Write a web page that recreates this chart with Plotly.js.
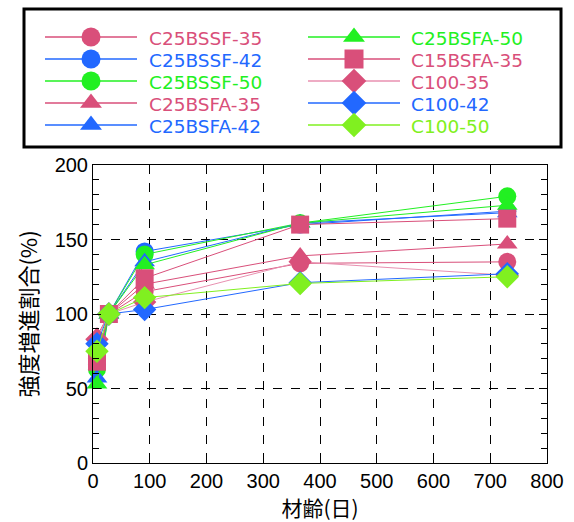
<!DOCTYPE html>
<html><head><meta charset="utf-8">
<script src="https://cdn.plot.ly/plotly-3.0.1.min.js"></script>
<style>html,body{margin:0;padding:0;background:#fff}#c{width:574px;height:522px}</style>
</head><body><div id="c"></div>
<script>
const ages = [7, 28, 91, 365, 730];
const names = ['C25BSSF-35','C25BSSF-42','C25BSSF-50','C25BSFA-35','C25BSFA-42','C25BSFA-50','C15BSFA-35','C100-35','C100-42','C100-50'];
const v_C25BSSF_35 = [70, 100, 115, 134, 135];
const v_C25BSSF_42 = [66, 100, 142, 160, 169];
const v_C25BSSF_50 = [63, 100, 140, 161, 179];
const v_C25BSFA_35 = [85, 100, 120, 139, 147];
const v_C25BSFA_42 = [57, 100, 135, 161, 168];
const v_C25BSFA_50 = [53, 100, 133, 161, 173];
const v_C15BSFA_35 = [68, 100, 124, 160, 164];
const v_C100_35 = [83, 100, 108, 135, 126];
const v_C100_42 = [80, 100, 103, 121, 127];
const v_C100_50 = [75, 100, 111, 120.5, 125];
const series = [v_C25BSSF_35, v_C25BSSF_42, v_C25BSSF_50, v_C25BSFA_35, v_C25BSFA_42, v_C25BSFA_50, v_C15BSFA_35, v_C100_35, v_C100_42, v_C100_50];

const PINK = '#d94f7a', BLUE = '#2268ff', GREEN = '#22f022', LIME = '#80f020';
const colors = [PINK, BLUE, GREEN, PINK, BLUE, GREEN, PINK, PINK, BLUE, LIME];
const lineColors = [PINK, BLUE, GREEN, PINK, BLUE, GREEN, PINK, '#e890b0', BLUE, LIME];
const symbols = ['circle','circle','circle','triangle-up','triangle-up','triangle-up','square','diamond','diamond','diamond'];

const W = 574, H = 522;
const plotL = 93, plotR = 547, plotT = 165, plotB = 463;

const traces = series.map((ys, i) => ({
  x: ages, y: ys, type: 'scatter', mode: 'lines+markers',
  name: names[i], showlegend: false,
  line: {color: lineColors[i], width: 1},
  marker: {color: colors[i], symbol: symbols[i], size: 18, line: {width: 0}},
  cliponaxis: false
}));

// manual legend (two columns, five rows each), drawn on a helper pixel axis
const legRowY = [37, 59, 81, 103, 125];
const legColLine = [[45, 137], [308, 400]];
const legColText = [148, 410];
const annotations = [];
names.forEach((nm, i) => {
  const col = i < 5 ? 0 : 1, row = i % 5;
  const y = legRowY[row];
  const [a, b] = legColLine[col];
  traces.push({
    x: [a, (a + b) / 2, b], y: [y, y, y], xaxis: 'x2', yaxis: 'y2',
    type: 'scatter', mode: 'lines', showlegend: false, hoverinfo: 'skip',
    line: {color: lineColors[i], width: 1.5}
  });
  traces.push({
    x: [(a + b) / 2], y: [y], xaxis: 'x2', yaxis: 'y2',
    type: 'scatter', mode: 'markers', showlegend: false, hoverinfo: 'skip',
    marker: {color: colors[i], symbol: symbols[i], size: 19, line: {width: 0}}
  });
  annotations.push({
    xref: 'x2', yref: 'y2', x: legColText[col], y: y + 1, text: nm,
    showarrow: false, xanchor: 'left', yanchor: 'middle', borderpad: 0,
    font: {family: '"DejaVu Sans", sans-serif', size: 18.5, color: colors[i]}
  });
});

const layout = {
  width: W, height: H,
  margin: {l: 0, r: 0, t: 0, b: 0},
  paper_bgcolor: '#fff', plot_bgcolor: 'rgba(0,0,0,0)',
  showlegend: false,
  font: {family: '"Liberation Sans", Arial, sans-serif', size: 20, color: '#000'},
  xaxis: {
    domain: [plotL / W, plotR / W], anchor: 'y',
    range: [0, 800], dtick: 100, tick0: 0,
    ticks: 'inside', ticklen: 7, tickcolor: '#000',
    showline: true, linecolor: '#000', linewidth: 1, mirror: 'ticks',
    showgrid: true, gridcolor: '#000', griddash: 'dash', gridwidth: 1,
    zeroline: false,
    title: {text: '材齢(日)', font: {family: '"Noto Sans CJK JP", sans-serif', size: 21}, standoff: 6},
    tickfont: {size: 20}
  },
  yaxis: {
    domain: [(H - plotB) / H, (H - plotT) / H], anchor: 'x',
    range: [0, 200], dtick: 50, tick0: 0,
    ticks: 'inside', ticklen: 8, tickcolor: '#000',
    minor: {dtick: 10, ticks: 'inside', ticklen: 6, tickcolor: '#000', showgrid: false},
    showline: true, linecolor: '#000', linewidth: 1, mirror: 'ticks',
    showgrid: true, gridcolor: '#000', griddash: 'dash', gridwidth: 1,
    zeroline: false,
    title: {text: '強度増進割合(%)', font: {family: '"Noto Sans CJK JP", sans-serif', size: 22}, standoff: 10},
    tickfont: {size: 20}
  },
  xaxis2: {domain: [0, 1], anchor: 'y2', range: [0, W], visible: false, fixedrange: true},
  yaxis2: {domain: [0, 1], anchor: 'x2', range: [H, 0], visible: false, fixedrange: true},
  annotations: annotations,
  shapes: [{
    type: 'rect', xref: 'x2', yref: 'y2',
    x0: 24, x1: 561, y0: 9, y1: 147,
    line: {color: '#000', width: 3}, fillcolor: 'rgba(0,0,0,0)'
  }]
};

Plotly.newPlot('c', traces, layout, {displayModeBar: false, staticPlot: true});
</script></body></html>
